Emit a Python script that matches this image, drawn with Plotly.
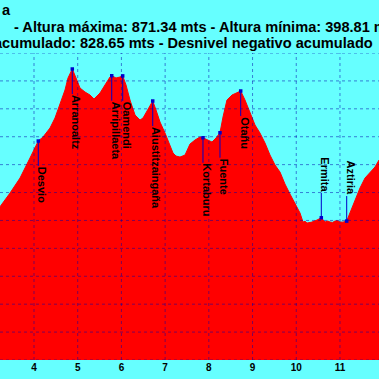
import plotly.graph_objects as go

# ---------------- data ----------------
dist_km = [2.993, 3.222, 3.451, 3.680, 3.908, 4.023, 4.098, 4.206, 4.366, 4.480,
           4.595, 4.709, 4.778, 4.876, 4.961, 5.052, 5.167, 5.281, 5.373, 5.510,
           5.624, 5.739, 5.778, 5.876, 5.967, 6.029, 6.105, 6.196, 6.311, 6.425,
           6.494, 6.608, 6.716, 6.791, 6.883, 6.997, 7.111, 7.180, 7.249, 7.340,
           7.455, 7.569, 7.683, 7.798, 7.866, 7.981, 8.072, 8.164, 8.255, 8.324,
           8.415, 8.530, 8.621, 8.729, 8.827, 8.942, 9.056, 9.170, 9.285, 9.399,
           9.514, 9.628, 9.742, 9.857, 9.971, 10.086, 10.154, 10.200, 10.246, 10.300,
           10.360, 10.474, 10.573, 10.657, 10.720, 10.772, 10.830, 10.886, 10.940, 11.001,
           11.070, 11.154, 11.229, 11.344, 11.458, 11.573, 11.687, 11.801, 11.893, 12.145]
alt_m = [597.1, 624.6, 649.1, 676.0, 711.8, 729.8, 742.3, 749.5, 765.6, 783.5,
         806.8, 833.7, 855.2, 871.34, 855.2, 837.3, 830.1, 824.7, 817.6, 828.3,
         842.7, 857.0, 859.3, 855.2, 857.0, 859.0, 842.7, 815.8, 788.9, 779.9,
         783.5, 797.9, 814.0, 797.9, 776.3, 756.6, 735.1, 720.8, 715.4, 713.6,
         717.2, 736.9, 744.1, 749.5, 748.2, 744.1, 740.5, 747.7, 757.2, 785.3,
         815.8, 824.7, 828.3, 831.9, 815.8, 792.5, 771.0, 756.6, 738.7, 717.2,
         699.3, 686.7, 665.2, 647.3, 631.2, 613.3, 597.1, 598.5, 595.3, 596.0,
         597.1, 600.7, 604.8, 597.1, 599.0, 597.1, 596.5, 598.9, 599.5, 597.1,
         597.0, 598.9, 613.3, 636.6, 658.1, 676.0, 686.7, 695.7, 708.2, 726.2]

wp_names = ["Desvio", "Arranoaltz", "Arripillaeta", "Oamendi", "Aiustitzaingaña",
            "Kortaburu", "Fuente", "Otañu", "Ermita", "Aztiria"]
wp_km = [4.098, 4.876, 5.778, 6.029, 6.716, 7.866, 8.255, 8.729, 10.573, 11.154]
wp_alt = [742.3, 871.34, 859.3, 859.0, 814.0, 748.2, 757.2, 831.9, 604.8, 598.9]

x_ticks = [4, 5, 6, 7, 8, 9, 10, 11]
x_grid = [3, 4, 5, 6, 7, 8, 9, 10, 11, 12]
y_grid = [350, 400, 450, 500, 550, 600, 650, 700, 750, 800, 850, 900]

title_lines = ["a",
               "- Altura máxima: 871.34 mts - Altura mínima: 398.81 mts",
               "acumulado: 828.65 mts - Desnivel negativo acumulado"]

# ---------------- style / layout ----------------
W, H = 379, 379
M_T, M_B = 53, 19
PH = H - M_T - M_B
BG = "#66FFFF"
FONT = "Liberation Sans, Arial, sans-serif"
GRID = "rgba(0,0,170,0.5)"
LEAD = "#0000C8"
label_side = [1, 1, 1, 1, 1, 1, 1, 1, -1, -1]   # 1 = below marker, -1 = above
title_px = [(0, 10), (12, 26.7), (-8.1, 42.7)]  # left x, middle y in pixels
GAP = 25

bold_w = {'A': 722, 'D': 722, 'E': 667, 'F': 611, 'K': 722, 'O': 778, 'a': 556, 'b': 611,
          'c': 556, 'd': 611, 'e': 556, 'g': 611, 'i': 278, 'l': 278, 'm': 889, 'n': 611,
          'ñ': 611, 'o': 611, 'p': 611, 'r': 389, 's': 556, 't': 333, 'u': 611, 'v': 556,
          'z': 500}
LBL_SIZE = 11


def text_len(s, size):
    return sum(bold_w.get(c, 556) for c in s) * size / 1000.0


fig = go.Figure()
fig.add_trace(go.Scatter(x=dist_km, y=alt_m, mode="lines", fill="tozeroy",
                         line=dict(color="#FF0000", width=1), fillcolor="#FF0000",
                         hoverinfo="skip"))

shapes = []
for v in x_grid:
    shapes.append(dict(type="line", xref="x", yref="paper", x0=v, x1=v, y0=0, y1=1,
                       line=dict(color=GRID, width=1, dash="dot"), layer="above"))
for v in y_grid:
    shapes.append(dict(type="line", xref="paper", yref="y", x0=0, x1=1, y0=v, y1=v,
                       line=dict(color=GRID, width=1, dash="dot"), layer="above"))

annotations = []
for name, xk, ya, side in zip(wp_names, wp_km, wp_alt, label_side):
    L = text_len(name, LBL_SIZE)
    shapes.append(dict(type="line", xref="x", yref="y", x0=xk, x1=xk,
                       ysizemode="pixel", yanchor=ya, y0=0, y1=-side * GAP,
                       line=dict(color=LEAD, width=1), layer="above"))
    annotations.append(dict(x=xk, y=ya, xref="x", yref="y", text="<b>%s</b>" % name, textangle=90,
                            showarrow=False, xanchor="center", yanchor="middle",
                            xshift=4, yshift=-side * (GAP + 1 + L / 2),
                            font=dict(family=FONT, size=LBL_SIZE, color="#000000")))

fig.add_trace(go.Scatter(x=wp_km, y=wp_alt, mode="markers",
                         marker=dict(symbol="square", size=3.5, color="#0000CC"),
                         hoverinfo="skip"))

for txt, (px, py) in zip(title_lines, title_px):
    annotations.append(dict(x=px / W, y=1 + (M_T - py) / PH, xref="paper", yref="paper",
                            xanchor="left", yanchor="middle", showarrow=False, text="<b>%s</b>" % txt,
                            font=dict(family=FONT, size=14.6, color="#000000")))

fig.update_layout(
    width=W, height=H,
    margin=dict(l=0, r=0, t=M_T, b=M_B, pad=0),
    paper_bgcolor=BG, plot_bgcolor=BG,
    showlegend=False, hovermode=False,
    shapes=shapes, annotations=annotations,
    xaxis=dict(range=[3.222, 11.893], tickvals=x_ticks, ticktext=[str(t) for t in x_ticks],
               showgrid=False, zeroline=False, showline=False, ticks="",
               tickfont=dict(family=FONT, size=10, color="#000000", weight="bold")),
    yaxis=dict(range=[350, 900], showgrid=False, zeroline=False, showline=False,
               showticklabels=False, ticks=""),
)

fig.write_html("out.html", config={"displayModeBar": False},
               post_script="document.body.style.margin='0';document.body.style.background='%s';" % BG)
